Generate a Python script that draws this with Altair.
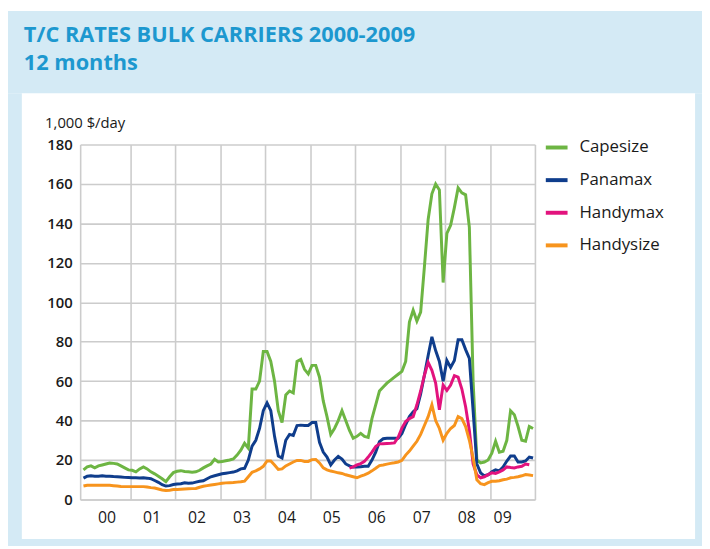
import altair as alt
import pandas as pd

# ---- data (1,000 $/day, monthly, Dec 1999 .. Dec 2009) ----
series_names = ["Capesize", "Panamax", "Handymax", "Handysize"]
series_colors = ["#6db543", "#0f3d8c", "#e2137d", "#f7941d"]

months = pd.date_range("1999-12-01", "2009-12-01", freq="MS")

capesize = [
    15, 16.5, 17, 16, 17, 17.5, 18, 18.5, 18.3, 18, 17, 16, 15,
    14.8, 14, 15.5, 16.5, 15.5, 14, 13, 11.8, 10.5, 9, 11.5, 13.6,
    14.3, 14.6, 14.2, 14, 13.8, 14, 14.8, 16, 17, 18, 20.4, 19,
    19.2, 19.6, 20, 20.5, 22.5, 25, 28.5, 26, 56, 56, 60, 75,
    75, 70, 60, 45, 39, 53, 55, 54, 70, 71, 66, 63.7,
    68, 68, 62, 50, 42, 33, 36, 40, 45, 40, 35, 31,
    32, 33.5, 32, 31.5, 41, 48, 55, 57, 59, 60.5, 62, 63.5,
    65, 70, 90, 96, 90.5, 95, 118, 142, 155, 160, 157, 110,
    135, 139, 148, 158, 155.5, 154.5, 138, 60, 20, 18.5, 19, 20,
    23.5, 29.5, 24, 24.5, 30, 45, 43, 37, 30, 29.5, 37, 36,
]
panamax = [
    10.8, 11.8, 12, 11.8, 11.8, 12, 11.8, 11.8, 11.6, 11.5, 11.4, 11.2, 11.1,
    11, 11, 10.9, 11, 10.8, 10.5, 9.6, 8.7, 7.5, 6.8, 7, 7.6,
    7.8, 8, 8.5, 8.2, 8.3, 8.8, 9.2, 9.5, 10.5, 11.5, 12, 12.5,
    13, 13.3, 13.6, 13.9, 14.5, 15.5, 15.8, 20, 27, 30, 36, 45,
    49, 45, 32, 22, 21, 30, 33, 32.5, 37.5, 37.7, 37.5, 37.5,
    39, 39, 29, 24, 21.5, 17.5, 20, 21.8, 20.5, 18, 17, 16.4,
    16.4, 16.6, 16.8, 16.8, 20, 24, 29.3, 30.8, 31, 31, 31, 31,
    33.5, 38, 42, 44.5, 46, 53.5, 63, 73, 82.5, 75.5, 70, 60,
    70.5, 67, 70.5, 81, 81, 76, 71.5, 45, 18, 13.5, 12, 12.5,
    14, 15, 14.5, 16.5, 19.5, 22, 22, 19, 19, 19.5, 21.5, 21,
]
handymax_start = "2005-11-01"
handymax = [
    15.9, 16.5, 17.5, 18.2, 19.3, 21.5, 24, 26.8, 28.2, 28.3, 28.4, 28.5, 28.7,
    31.5, 36.2, 39.5, 41, 42, 48, 55, 63, 69.5, 65.5, 59, 45.5,
    58, 55.3, 58, 62.8, 62, 56, 47, 35, 18, 12.5, 11, 11.5,
    12.6, 13.5, 13.2, 14, 15, 16.5, 16.2, 16, 16.5, 16.8, 18, 17.6,
]
handysize = [
    6.8, 7.2, 7.2, 7.2, 7.2, 7.2, 7.2, 7.2, 7, 6.8, 6.6, 6.5, 6.5,
    6.5, 6.5, 6.5, 6.5, 6.3, 6, 5.8, 5.3, 4.8, 4.5, 4.7, 5,
    5.1, 5.2, 5.3, 5.4, 5.5, 5.6, 6.2, 6.7, 7, 7.3, 7.6, 7.9,
    8.2, 8.4, 8.5, 8.6, 8.8, 9, 9.3, 11.5, 13.8, 14.5, 15.5, 16.8,
    19.5, 19.5, 17.5, 15.2, 15.5, 17, 18, 19, 19.8, 19.8, 19.3, 19.3,
    20.2, 20.3, 18.5, 16, 15, 14.4, 14, 13.5, 13.2, 12.5, 12, 11.5,
    11, 11.8, 12.5, 13.3, 14.5, 15.8, 17.2, 17.5, 17.9, 18.3, 18.6, 19,
    19.8, 22.5, 24.5, 27, 29.5, 33, 37.5, 42, 48, 40, 36, 30,
    33.5, 36, 37.5, 42, 41, 37, 30, 21, 10, 8, 7.5, 8.5,
    9.2, 9.2, 9.5, 10, 10.3, 11, 11.2, 11.5, 12, 12.6, 12.4, 12.1,
]

year_lines = list(range(2001, 2011))
y_ticks = list(range(0, 181, 20))


def frac_year(d):
    return d.year + (d.month - 0.5) / 12.0


rows = []
for name, vals, start in [
    ("Capesize", capesize, months[0]),
    ("Panamax", panamax, months[0]),
    ("Handymax", handymax, pd.Timestamp(handymax_start)),
    ("Handysize", handysize, months[0]),
]:
    dates = pd.date_range(start, periods=len(vals), freq="MS")
    for d, v in zip(dates, vals):
        rows.append({"series": name, "t": frac_year(d), "v": v})
df = pd.DataFrame(rows)

BG = "#d4eaf5"
GRID = "#cccccc"
FONT = "Open Sans"

lines = alt.Chart(df).mark_line(strokeWidth=3).encode(
    x=alt.X(
        "t:Q",
        scale=alt.Scale(domain=[1999.885, 2010], nice=False, zero=False),
        axis=alt.Axis(
            values=year_lines,
            labelExpr="'0' + (datum.value - 2001)",
            labelOffset=-24,
            labelPadding=10,
            labelFontSize=16,
            labelColor="#1a1a1a",
            ticks=False,
            grid=True,
            title=None,
            labelOverlap=False,
        ),
    ),
    y=alt.Y(
        "v:Q",
        scale=alt.Scale(domain=[0, 180], nice=False),
        axis=alt.Axis(
            values=y_ticks,
            ticks=False,
            grid=True,
            labelPadding=8,
            labelFontSize=15,
            labelFontWeight=600,
            labelColor="#1a1a1a",
            title="1,000 $/day",
            titleAngle=0,
            titleAlign="left",
            titleBaseline="alphabetic",
            titleX=-36,
            titleY=-17,
            titleFontSize=15,
            titleFontWeight="normal",
            titleColor="#1a1a1a",
        ),
    ),
    color=alt.Color(
        "series:N",
        scale=alt.Scale(domain=series_names, range=series_colors),
        legend=alt.Legend(
            title=None,
            orient="none",
            legendX=469,
            legendY=-10,
            padding=0,
            symbolType="stroke",
            symbolSize=484,
            symbolStrokeWidth=4,
            labelFontSize=17,
            labelOffset=10,
            labelColor="#1a1a1a",
            rowPadding=12,
        ),
    ),
    order=alt.Order("t:Q"),
)


def strip(x1, x2, y1, y2):
    return alt.Chart(pd.DataFrame({"k": [0]})).mark_rect(color=BG).encode(
        x=alt.value(x1), x2=alt.value(x2), y=alt.value(y1), y2=alt.value(y2)
    )


frame = [
    strip(-73, 629, -135, -52),
    strip(-73, -59, -52, 406),
    strip(622, 629, -52, 406),
    strip(-73, 629, 399, 406),
]

chart = alt.layer(*frame, lines).properties(
    width=460,
    height=359,
    autosize=alt.AutoSizeParams(type="none"),
    padding={"left": 73, "top": 135, "right": 169, "bottom": 47},
    background="white",
    title=alt.TitleParams(
        text=["T/C RATES BULK CARRIERS 2000-2009", "12 months"],
        anchor="start",
        frame="group",
        dx=-57,
        dy=69,
        fontSize=22,
        fontWeight="bold",
        color="#1d98cf",
        font=FONT,
        lineHeight=29,
    ),
).configure(font=FONT).configure_view(stroke=None).configure_axis(
    gridColor=GRID, gridWidth=1.6, domainColor=GRID, domainWidth=1.6, labelFont=FONT, titleFont=FONT
).configure_legend(labelFont=FONT)

chart.save("out.html", embed_options={"renderer": "svg", "actions": False})
